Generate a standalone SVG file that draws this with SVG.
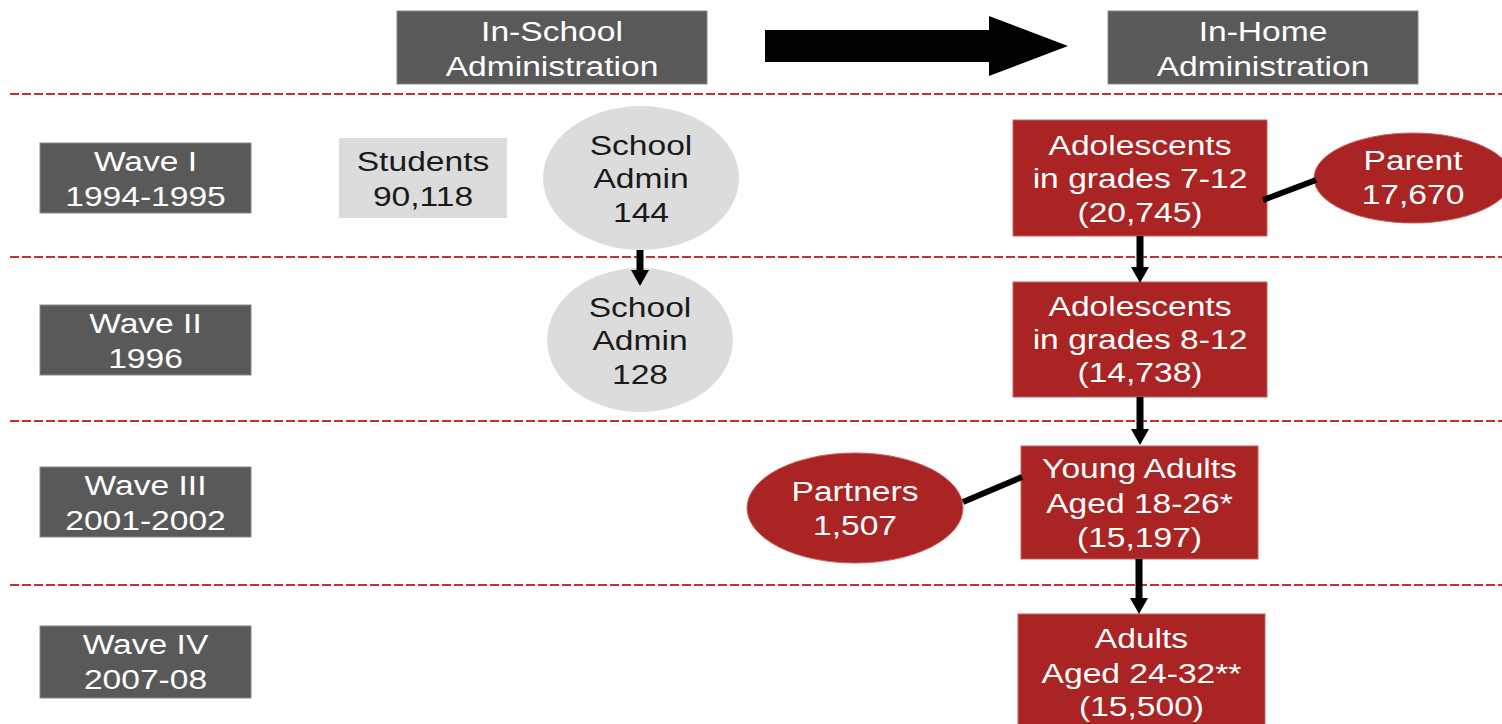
<svg xmlns="http://www.w3.org/2000/svg" width="1502" height="724" viewBox="0 0 1502 724">
<defs>
<style>
.t{font-family:"Liberation Sans",Arial,sans-serif;font-size:28px;text-anchor:middle}
.w{fill:#ffffff}
.k{fill:#1a1a1a}
.dark{fill:#595959;stroke:#8a8a8a;stroke-width:1}
.lite{fill:#dcdcdc}
.red{fill:#aa2424;stroke:#c86060;stroke-width:1}
.dash{stroke:#c23232;stroke-width:2;stroke-dasharray:9 3;fill:none}
.conn{stroke:#000;stroke-width:6;fill:none}
.arr{stroke:#000;stroke-width:7;fill:none;marker-end:url(#ah)}
</style>
<marker id="ah" markerUnits="userSpaceOnUse" markerWidth="24" markerHeight="18" refX="0" refY="9" orient="auto" viewBox="0 0 24 18">
<path d="M0,0 L16,9 L0,18 Z" fill="#000"/>
</marker>
</defs>

<g id="separators">
<line class="dash" x1="10" y1="94" x2="1502" y2="94"/>
<line class="dash" x1="10" y1="257" x2="1502" y2="257"/>
<line class="dash" x1="10" y1="421" x2="1502" y2="421"/>
<line class="dash" x1="10" y1="585" x2="1502" y2="585"/>
</g>

<g id="hdr-school">
<rect class="dark" x="397" y="11" width="310" height="73"/>
<text class="t w" transform="matrix(1.2 0 0 1 552 0)"><tspan x="0" y="41">In-School</tspan><tspan x="0" y="76">Administration</tspan></text>
</g>
<g id="hdr-home">
<rect class="dark" x="1108" y="11" width="310" height="73"/>
<text class="t w" transform="matrix(1.2 0 0 1 1263 0)"><tspan x="0" y="41">In-Home</tspan><tspan x="0" y="76">Administration</tspan></text>
</g>
<g id="big-arrow">
<path d="M765,30 L989,30 L989,16 L1068,46 L989,76 L989,62 L765,62 Z" fill="#000"/>
</g>

<g id="wave1">
<rect class="dark" x="40" y="143" width="211" height="70"/>
<text class="t w" transform="matrix(1.2 0 0 1 145.5 0)"><tspan x="0" y="171">Wave I</tspan><tspan x="0" y="206">1994-1995</tspan></text>
</g>
<g id="wave2">
<rect class="dark" x="40" y="305" width="211" height="70"/>
<text class="t w" transform="matrix(1.2 0 0 1 145.5 0)"><tspan x="0" y="333">Wave II</tspan><tspan x="0" y="368">1996</tspan></text>
</g>
<g id="wave3">
<rect class="dark" x="40" y="467" width="211" height="70"/>
<text class="t w" transform="matrix(1.2 0 0 1 145.5 0)"><tspan x="0" y="495">Wave III</tspan><tspan x="0" y="530">2001-2002</tspan></text>
</g>
<g id="wave4">
<rect class="dark" x="40" y="626" width="211" height="72"/>
<text class="t w" transform="matrix(1.2 0 0 1 145.5 0)"><tspan x="0" y="654">Wave IV</tspan><tspan x="0" y="689">2007-08</tspan></text>
</g>

<g id="students">
<rect class="lite" x="339" y="138" width="168" height="80"/>
<text class="t k" transform="matrix(1.2 0 0 1 423 0)"><tspan x="0" y="171">Students</tspan><tspan x="0" y="206">90,118</tspan></text>
</g>
<g id="schooladmin1">
<ellipse class="lite" cx="641" cy="178" rx="98" ry="72"/>
<text class="t k" transform="matrix(1.2 0 0 1 641 0)"><tspan x="0" y="155">School</tspan><tspan x="0" y="188">Admin</tspan><tspan x="0" y="222">144</tspan></text>
</g>
<g id="schooladmin2">
<ellipse class="lite" cx="640" cy="340" rx="93" ry="72"/>
<text class="t k" transform="matrix(1.2 0 0 1 640 0)"><tspan x="0" y="317">School</tspan><tspan x="0" y="350">Admin</tspan><tspan x="0" y="384">128</tspan></text>
</g>

<g id="adol712">
<rect class="red" x="1013" y="120" width="254" height="116"/>
<text class="t w" transform="matrix(1.2 0 0 1 1140 0)"><tspan x="0" y="155">Adolescents</tspan><tspan x="0" y="188">in grades 7-12</tspan><tspan x="0" y="222">(20,745)</tspan></text>
</g>
<g id="parent">
<ellipse class="red" cx="1413" cy="178" rx="99" ry="45"/>
<text class="t w" transform="matrix(1.2 0 0 1 1413 0)"><tspan x="0" y="170">Parent</tspan><tspan x="0" y="204">17,670</tspan></text>
</g>
<g id="adol812">
<rect class="red" x="1013" y="282" width="254" height="115"/>
<text class="t w" transform="matrix(1.2 0 0 1 1140 0)"><tspan x="0" y="316">Adolescents</tspan><tspan x="0" y="349">in grades 8-12</tspan><tspan x="0" y="382">(14,738)</tspan></text>
</g>
<g id="youngadults">
<rect class="red" x="1021" y="446" width="237" height="113"/>
<text class="t w" transform="matrix(1.2 0 0 1 1139.5 0)"><tspan x="0" y="478">Young Adults</tspan><tspan x="0" y="513">Aged 18-26*</tspan><tspan x="0" y="547">(15,197)</tspan></text>
</g>
<g id="partners">
<ellipse class="red" cx="855" cy="508" rx="108" ry="55"/>
<text class="t w" transform="matrix(1.2 0 0 1 855 0)"><tspan x="0" y="501">Partners</tspan><tspan x="0" y="535">1,507</tspan></text>
</g>
<g id="adults">
<rect class="red" x="1018" y="614" width="247" height="115"/>
<text class="t w" transform="matrix(1.2 0 0 1 1141.5 0)"><tspan x="0" y="648">Adults</tspan><tspan x="0" y="683">Aged 24-32**</tspan><tspan x="0" y="716">(15,500)</tspan></text>
</g>

<g id="connectors">
<line class="arr" x1="640" y1="250" x2="640" y2="270"/>
<line class="arr" x1="1140" y1="236" x2="1140" y2="267"/>
<line class="arr" x1="1140" y1="397" x2="1140" y2="429"/>
<line class="arr" x1="1139" y1="559" x2="1139" y2="598"/>
<line class="conn" x1="1263" y1="200" x2="1316" y2="180"/>
<line class="conn" x1="963" y1="502" x2="1022" y2="477"/>
</g>
</svg>
